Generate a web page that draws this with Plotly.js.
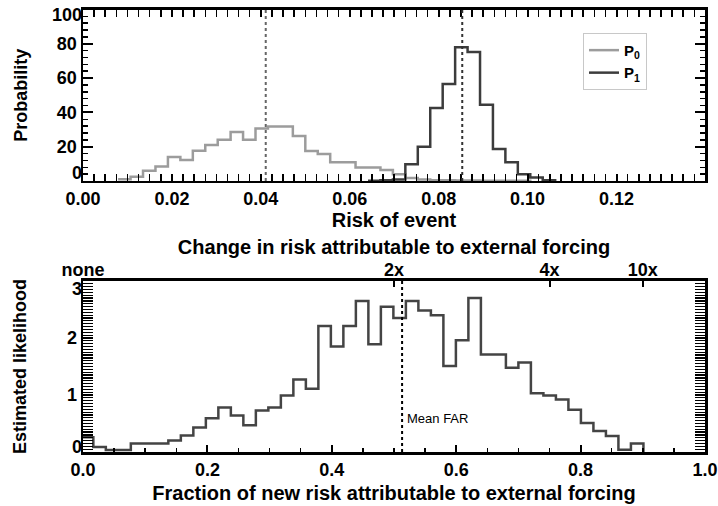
<!DOCTYPE html>
<html>
<head>
<meta charset="utf-8">
<script src="https://cdn.plot.ly/plotly-3.0.1.min.js"></script>
<style>html,body{margin:0;padding:0;background:#fff;}#chart{width:718px;height:506px;}</style>
</head>
<body>
<div id="chart"></div>
<script>
// ---------- Top panel data: risk of event histograms ----------
var p0Edges = [0.0079, 0.0107, 0.0135, 0.0163, 0.0191, 0.0219, 0.0247, 0.0275, 0.0303, 0.0332,
               0.0360, 0.0388, 0.0416, 0.0444, 0.0472, 0.0500, 0.0528, 0.0556, 0.0585, 0.0613,
               0.0641, 0.0669, 0.0697, 0.0725, 0.0753, 0.0781, 0.0809, 0.0837, 0.0865, 0.0893,
               0.0922, 0.0950, 0.0978, 0.1006];
var p0Values = [1, 2.5, 6, 8.4, 14, 12.3, 17.7, 21, 24, 28.5,
                24, 30.6, 31.8, 31.8, 26.3, 17.5, 15.8, 10.9, 10.9, 7.8,
                7.8, 6.4, 4, 1.8, 0.8, 0.5, 0.4, 0.3, 0.3, 0.2,
                0.2, 0.1, 0.1];
var p1Edges = [0.0641, 0.0669, 0.0697, 0.0725, 0.0753, 0.0781, 0.0809, 0.0837, 0.0865, 0.0893,
               0.0922, 0.0950, 0.0978, 0.1006, 0.1034, 0.1062];
var p1Values = [0.2, 0.4, 0.8, 9.7, 20, 42.5, 56.5, 78, 75.2, 44.4,
                18.7, 10.9, 4, 2.1, 0.5];
var meanP0 = 0.0411;
var meanP1 = 0.0853;
var topXTicks = [0, 0.02, 0.04, 0.06, 0.08, 0.10, 0.12];
var topYTicks = [20, 40, 60, 80];

// ---------- Bottom panel data: FAR histogram ----------
var farEdges = [0, 0.0166, 0.0367, 0.0568, 0.0769, 0.0970, 0.1171, 0.1372, 0.1573, 0.1774,
                0.1975, 0.2176, 0.2377, 0.2578, 0.2779, 0.2980, 0.3181, 0.3382, 0.3583, 0.3784,
                0.3985, 0.4186, 0.4387, 0.4588, 0.4789, 0.4990, 0.5191, 0.5392, 0.5593, 0.5794,
                0.5995, 0.6196, 0.6397, 0.6598, 0.6799, 0.7000, 0.7201, 0.7402, 0.7603, 0.7804,
                0.8005, 0.8206, 0.8407, 0.8608, 0.8809, 0.9010];
var farValues = [0.26, 0.09, 0.035, 0.035, 0.15, 0.15, 0.15, 0.2, 0.29, 0.43,
                 0.59, 0.78, 0.64, 0.47, 0.73, 0.78, 0.99, 1.27, 1.11, 2.21,
                 1.85, 2.21, 2.65, 1.89, 2.55, 2.35, 2.65, 2.48, 2.40, 1.51,
                 1.96, 2.70, 1.71, 1.71, 1.48, 1.57, 1.03, 0.99, 0.92, 0.74,
                 0.51, 0.37, 0.28, 0.04, 0.15];
var meanFAR = 0.513;
var botYTicks = [1, 2];
var ratioTickVals = [0, 0.5, 0.75, 0.9];
var ratioTickText = ['none', '2x', '4x', '10x'];

function stepY(vals) { return vals.concat([0]); }

var FONT = 'Liberation Sans, Arial, sans-serif';

var traces = [
  {x: p0Edges, y: stepY(p0Values), type: 'scatter', mode: 'lines', line: {shape: 'hv', color: '#9c9c9c', width: 2.5},
   name: 'P<sub>0</sub>', xaxis: 'x', yaxis: 'y'},
  {x: p1Edges, y: stepY(p1Values), type: 'scatter', mode: 'lines', line: {shape: 'hv', color: '#3c3c3c', width: 2.5},
   name: 'P<sub>1</sub>', xaxis: 'x', yaxis: 'y'},
  {x: farEdges, y: stepY(farValues), type: 'scatter', mode: 'lines', line: {shape: 'hv', color: '#444444', width: 2.5},
   name: 'FAR', showlegend: false, xaxis: 'x2', yaxis: 'y2'},
  // empty carriers so the overlay axes are drawn
  {x: [0, 1], y: [null, null], type: 'scatter', mode: 'lines', showlegend: false, hoverinfo: 'skip', xaxis: 'x3', yaxis: 'y2'},
  {x: [0, 0.1], y: [null, null], type: 'scatter', mode: 'lines', showlegend: false, hoverinfo: 'skip', xaxis: 'x', yaxis: 'y3'},
  {x: [0, 0.1], y: [null, null], type: 'scatter', mode: 'lines', showlegend: false, hoverinfo: 'skip', xaxis: 'x', yaxis: 'y4'},
  {x: [0, 1], y: [null, null], type: 'scatter', mode: 'lines', showlegend: false, hoverinfo: 'skip', xaxis: 'x2', yaxis: 'y5'},
  {x: [0, 1], y: [null, null], type: 'scatter', mode: 'lines', showlegend: false, hoverinfo: 'skip', xaxis: 'x2', yaxis: 'y6'}
];

var tickFont = {family: FONT, size: 18, color: '#000', weight: 'bold'};
var axCommon = {
  showline: true, linecolor: '#000', linewidth: 2.5, ticks: 'inside', tickcolor: '#000', tickwidth: 2,
  showgrid: false, zeroline: false, tickfont: tickFont
};
function ax(o) { var r = {}; for (var k in axCommon) r[k] = axCommon[k]; for (var k2 in o) r[k2] = o[k2]; return r; }
function endLabelAxis(over, anchor, range, val, text, shift) {
  return {overlaying: over, anchor: anchor, side: 'left', range: range, tickmode: 'array', tickvals: [val], ticktext: [text],
          ticks: '', showline: false, showgrid: false, zeroline: false, tickfont: tickFont,
          ticklabelshift: shift, ticklabeloverflow: 'allow'};
}
var hTitleFont = {family: FONT, size: 20, color: '#000', weight: 'bold'};
var vTitleFont = {family: FONT, size: 18, color: '#000', weight: 'bold'};

var layout = {
  width: 718, height: 506,
  margin: {l: 0, r: 0, t: 0, b: 0},
  paper_bgcolor: '#fff', plot_bgcolor: '#fff',
  font: {family: FONT, color: '#000'},
  showlegend: true,
  legend: {x: 0.812, y: 0.935, xanchor: 'left', yanchor: 'top', bgcolor: '#fff', bordercolor: '#c8c8c8', borderwidth: 1,
           font: {family: FONT, size: 15, color: '#000', weight: 'bold'}, tracegroupgap: 0, itemwidth: 30},
  xaxis: ax({domain: [0.1156, 0.9819], anchor: 'y', range: [0, 0.1399], tickvals: topXTicks, tickformat: '.2f',
             ticklen: 7, mirror: 'allticks',
             minor: {dtick: 0.0025, ticklen: 4, tickwidth: 1.5, tickcolor: '#000', ticks: 'inside'},
             title: {text: 'Risk of event', font: hTitleFont, standoff: 5}}),
  yaxis: ax({domain: [0.6423, 0.9812], anchor: 'x', range: [0, 100], tickmode: 'array', tickvals: topYTicks,
             ticklen: 10, mirror: 'allticks',
             minor: {tickmode: 'linear', tick0: 0, dtick: 4, ticklen: 5, tickwidth: 1.5, tickcolor: '#000', ticks: 'inside'},
             title: {text: 'Probability', font: vTitleFont, standoff: 25}}),
  yaxis3: endLabelAxis('y', 'x', [0, 100], 0, '0', -8),
  yaxis4: endLabelAxis('y', 'x', [0, 100], 100, '100', 5),
  xaxis2: ax({domain: [0.1156, 0.9819], anchor: 'y2', range: [0, 1], dtick: 0.2, tickformat: '.1f', ticklen: 7, mirror: true,
              minor: {dtick: 0.05, ticklen: 4, tickwidth: 1.5, tickcolor: '#000', ticks: 'inside'},
              title: {text: 'Fraction of new risk attributable to external forcing', font: hTitleFont, standoff: 7}}),
  xaxis3: ax({overlaying: 'x2', anchor: 'y2', side: 'top', range: [0, 1], tickvals: ratioTickVals, ticktext: ratioTickText,
              ticklen: 6, showline: false,
              title: {text: 'Change in risk attributable to external forcing', font: hTitleFont, standoff: 0}}),
  yaxis2: ax({domain: [0.1067, 0.4447], anchor: 'x2', range: [0, 3], tickmode: 'array', tickvals: botYTicks,
              ticklen: 10, mirror: 'allticks',
              minor: {tickmode: 'linear', tick0: 0, dtick: 0.05, ticklen: 5, tickwidth: 1.2, tickcolor: '#000', ticks: 'inside'},
              title: {text: 'Estimated likelihood', font: vTitleFont, standoff: 36}}),
  yaxis5: endLabelAxis('y2', 'x2', [0, 3], 0, '0', -5),
  yaxis6: endLabelAxis('y2', 'x2', [0, 3], 3, '3', 8),
  shapes: [
    {type: 'line', xref: 'x', yref: 'y domain', x0: meanP0, x1: meanP0, y0: 0, y1: 1, line: {color: '#666', width: 2, dash: 'dot'}},
    {type: 'line', xref: 'x', yref: 'y domain', x0: meanP1, x1: meanP1, y0: 0, y1: 1, line: {color: '#333', width: 2, dash: 'dot'}},
    {type: 'line', xref: 'x2', yref: 'y2 domain', x0: meanFAR, x1: meanFAR, y0: 0, y1: 1, line: {color: '#000', width: 2, dash: 'dot'}}
  ],
  annotations: [
    {xref: 'x2', yref: 'y2', x: meanFAR, y: 0.58, xanchor: 'left', yanchor: 'middle', xshift: 3, showarrow: false,
     text: 'Mean FAR', font: {family: FONT, size: 13, color: '#000'}}
  ]
};

Plotly.newPlot('chart', traces, layout, {displayModeBar: false, staticPlot: true});
</script>
</body>
</html>
